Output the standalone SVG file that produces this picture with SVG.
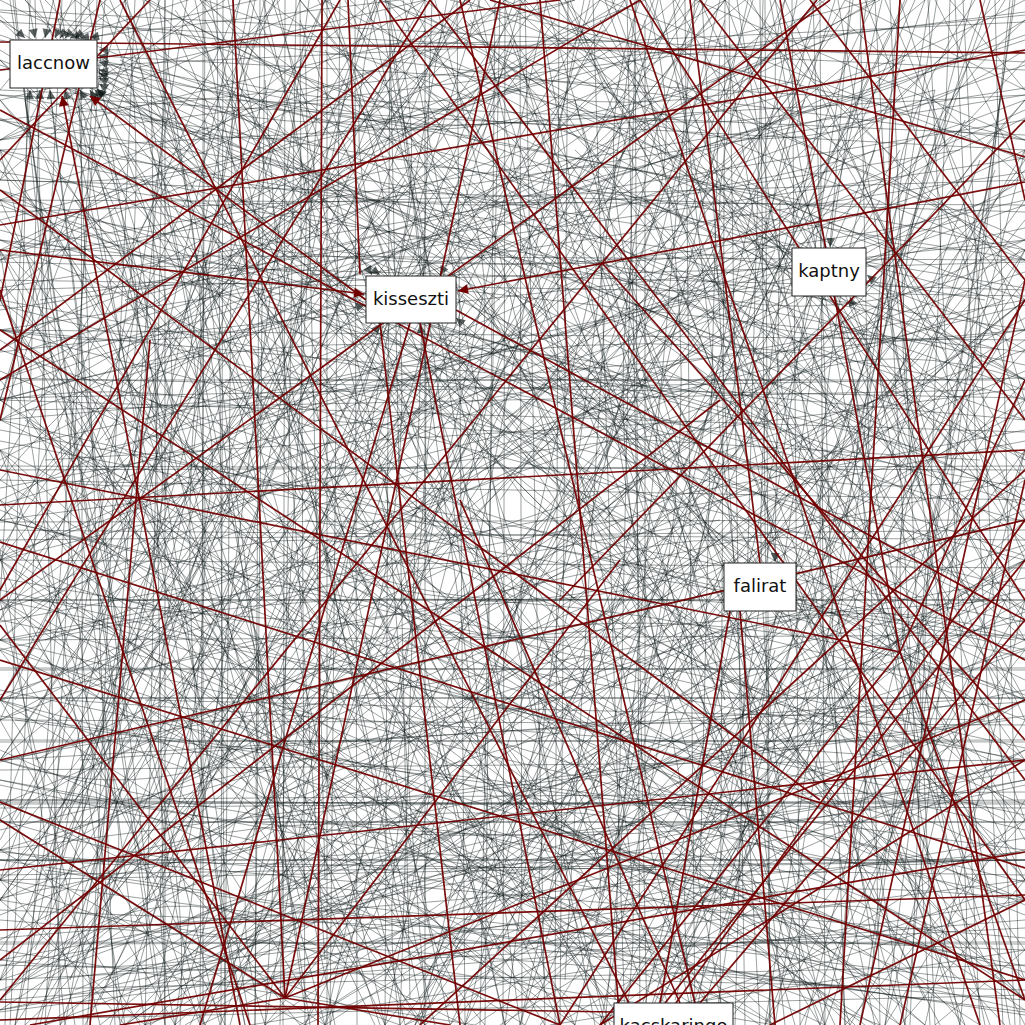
<svg xmlns="http://www.w3.org/2000/svg" width="1025" height="1025" viewBox="0 0 1025 1025">
<style>
.g line,.g path{stroke:#0a1414;stroke-opacity:.4;stroke-width:1;fill:none}
.r line{stroke:#720000;stroke-opacity:.95;stroke-width:1.7;fill:none}
.n rect{fill:#fff;stroke:#222;stroke-width:1}
.n text{font-family:"DejaVu Sans","Liberation Sans",sans-serif;font-size:18px;fill:#111;text-anchor:middle}
</style>
<defs>
<marker id="ag" viewBox="0 0 10 10" refX="10" refY="5" markerWidth="11" markerHeight="9" markerUnits="userSpaceOnUse" orient="auto"><path d="M0,0L10,5L0,10z" fill="#0a1414" fill-opacity=".65"/></marker>
<marker id="ar" viewBox="0 0 10 10" refX="10" refY="5" markerWidth="12" markerHeight="10" markerUnits="userSpaceOnUse" orient="auto"><path d="M0,0L10,5L0,10z" fill="#720000"/></marker>
</defs>
<rect width="1025" height="1025" fill="#fff"/>
<g id="edges">
<g class="g" id="gb">
<line x1="0" y1="12" x2="1025" y2="140"/><line x1="0" y1="35" x2="1025" y2="390"/><line x1="0" y1="70" x2="1025" y2="22"/><line x1="0" y1="95" x2="1025" y2="260"/><line x1="0" y1="118" x2="1025" y2="610"/><line x1="0" y1="150" x2="1025" y2="95"/><line x1="0" y1="172" x2="1025" y2="330"/><line x1="0" y1="190" x2="1025" y2="505"/><line x1="0" y1="212" x2="1025" y2="180"/><line x1="0" y1="240" x2="1025" y2="700"/><line x1="0" y1="262" x2="1025" y2="290"/><line x1="0" y1="288" x2="1025" y2="120"/><line x1="0" y1="305" x2="1025" y2="560"/><line x1="0" y1="330" x2="1025" y2="420"/><line x1="0" y1="352" x2="1025" y2="240"/><line x1="0" y1="371" x2="1025" y2="805"/><line x1="0" y1="398" x2="1025" y2="378"/><line x1="0" y1="420" x2="1025" y2="65"/><line x1="0" y1="441" x2="1025" y2="640"/><line x1="0" y1="466" x2="1025" y2="470"/><line x1="0" y1="488" x2="1025" y2="300"/><line x1="0" y1="510" x2="1025" y2="915"/><line x1="0" y1="530" x2="1025" y2="540"/><line x1="0" y1="556" x2="1025" y2="205"/><line x1="0" y1="578" x2="1025" y2="760"/><line x1="0" y1="600" x2="1025" y2="600"/><line x1="0" y1="622" x2="1025" y2="430"/><line x1="0" y1="648" x2="1025" y2="980"/><line x1="0" y1="670" x2="1025" y2="668"/><line x1="0" y1="695" x2="1025" y2="350"/><line x1="0" y1="716" x2="1025" y2="850"/><line x1="0" y1="740" x2="1025" y2="742"/><line x1="0" y1="762" x2="1025" y2="520"/><line x1="0" y1="785" x2="1025" y2="1010"/><line x1="0" y1="808" x2="1025" y2="800"/><line x1="0" y1="830" x2="1025" y2="590"/><line x1="0" y1="852" x2="1025" y2="938"/><line x1="0" y1="875" x2="1025" y2="860"/><line x1="0" y1="898" x2="1025" y2="690"/><line x1="0" y1="920" x2="1025" y2="1000"/><line x1="0" y1="944" x2="1025" y2="942"/><line x1="0" y1="966" x2="1025" y2="780"/><line x1="0" y1="990" x2="1025" y2="965"/><line x1="0" y1="1012" x2="1025" y2="880"/><line x1="0" y1="860" x2="1025" y2="860"/><line x1="0" y1="698" x2="1025" y2="698"/><line x1="0" y1="802" x2="1025" y2="804"/><line x1="0" y1="822" x2="1025" y2="822"/>
<line x1="15" y1="0" x2="120" y2="1025"/><line x1="40" y1="0" x2="380" y2="1025"/><line x1="62" y1="0" x2="10" y2="1025"/><line x1="88" y1="0" x2="250" y2="1025"/><line x1="110" y1="0" x2="560" y2="1025"/><line x1="135" y1="0" x2="90" y2="1025"/><line x1="158" y1="0" x2="310" y2="1025"/><line x1="180" y1="0" x2="720" y2="1025"/><line x1="205" y1="0" x2="200" y2="1025"/><line x1="228" y1="0" x2="450" y2="1025"/><line x1="250" y1="0" x2="40" y2="1025"/><line x1="272" y1="0" x2="610" y2="1025"/><line x1="296" y1="0" x2="280" y2="1025"/><line x1="318" y1="0" x2="880" y2="1025"/><line x1="340" y1="0" x2="330" y2="1025"/><line x1="365" y1="0" x2="150" y2="1025"/><line x1="388" y1="0" x2="520" y2="1025"/><line x1="410" y1="0" x2="940" y2="1025"/><line x1="432" y1="0" x2="400" y2="1025"/><line x1="455" y1="0" x2="60" y2="1025"/><line x1="478" y1="0" x2="700" y2="1025"/><line x1="500" y1="0" x2="480" y2="1025"/><line x1="522" y1="0" x2="230" y2="1025"/><line x1="545" y1="0" x2="850" y2="1025"/><line x1="568" y1="0" x2="560" y2="1025"/><line x1="590" y1="0" x2="330" y2="1025"/><line x1="612" y1="0" x2="990" y2="1025"/><line x1="635" y1="0" x2="640" y2="1025"/><line x1="658" y1="0" x2="420" y2="1025"/><line x1="680" y1="0" x2="190" y2="1025"/><line x1="702" y1="0" x2="760" y2="1025"/><line x1="725" y1="0" x2="720" y2="1025"/><line x1="748" y1="0" x2="520" y2="1025"/><line x1="770" y1="0" x2="960" y2="1025"/><line x1="792" y1="0" x2="800" y2="1025"/><line x1="815" y1="0" x2="600" y2="1025"/><line x1="838" y1="0" x2="1010" y2="1025"/><line x1="860" y1="0" x2="880" y2="1025"/><line x1="882" y1="0" x2="640" y2="1025"/><line x1="905" y1="0" x2="420" y2="1025"/><line x1="928" y1="0" x2="980" y2="1025"/><line x1="950" y1="0" x2="910" y2="1025"/><line x1="972" y1="0" x2="700" y2="1025"/><line x1="995" y1="0" x2="1020" y2="1025"/><line x1="1015" y1="0" x2="860" y2="1025"/><line x1="520" y1="0" x2="522" y2="1025"/><line x1="760" y1="0" x2="770" y2="1025"/><line x1="260" y1="0" x2="255" y2="1025"/>
<line x1="0" y1="300" x2="280" y2="0"/><line x1="0" y1="520" x2="460" y2="0"/><line x1="0" y1="180" x2="90" y2="0"/><line x1="0" y1="640" x2="700" y2="0"/><line x1="0" y1="420" x2="160" y2="0"/><line x1="0" y1="760" x2="540" y2="0"/><line x1="0" y1="880" x2="820" y2="0"/><line x1="0" y1="250" x2="520" y2="0"/><line x1="0" y1="560" x2="240" y2="0"/><line x1="0" y1="980" x2="1000" y2="0"/><line x1="0" y1="350" x2="640" y2="0"/><line x1="0" y1="700" x2="380" y2="0"/><line x1="0" y1="140" x2="330" y2="0"/><line x1="0" y1="460" x2="880" y2="0"/><line x1="0" y1="820" x2="300" y2="0"/>
<line x1="200" y1="0" x2="1025" y2="610"/><line x1="400" y1="0" x2="1025" y2="380"/><line x1="600" y1="0" x2="1025" y2="260"/><line x1="700" y1="0" x2="1025" y2="720"/><line x1="820" y1="0" x2="1025" y2="180"/><line x1="300" y1="0" x2="1025" y2="880"/><line x1="520" y1="0" x2="1025" y2="520"/><line x1="900" y1="0" x2="1025" y2="400"/><line x1="650" y1="0" x2="1025" y2="980"/><line x1="450" y1="0" x2="1025" y2="140"/><line x1="750" y1="0" x2="1025" y2="470"/><line x1="100" y1="0" x2="1025" y2="760"/><line x1="950" y1="0" x2="1025" y2="90"/><line x1="560" y1="0" x2="1025" y2="840"/><line x1="380" y1="0" x2="1025" y2="260"/>
<line x1="0" y1="300" x2="420" y2="1025"/><line x1="0" y1="500" x2="760" y2="1025"/><line x1="0" y1="150" x2="220" y2="1025"/><line x1="0" y1="650" x2="300" y2="1025"/><line x1="0" y1="400" x2="980" y2="1025"/><line x1="0" y1="800" x2="140" y2="1025"/><line x1="0" y1="560" x2="560" y2="1025"/><line x1="0" y1="700" x2="880" y2="1025"/><line x1="0" y1="220" x2="640" y2="1025"/><line x1="0" y1="880" x2="400" y2="1025"/><line x1="0" y1="60" x2="900" y2="1025"/><line x1="0" y1="450" x2="200" y2="1025"/><line x1="0" y1="750" x2="620" y2="1025"/><line x1="0" y1="340" x2="1025" y2="1010"/><line x1="0" y1="600" x2="100" y2="1025"/>
<line x1="100" y1="1025" x2="1025" y2="300"/><line x1="300" y1="1025" x2="1025" y2="560"/><line x1="500" y1="1025" x2="1025" y2="700"/><line x1="700" y1="1025" x2="1025" y2="820"/><line x1="200" y1="1025" x2="1025" y2="640"/><line x1="400" y1="1025" x2="1025" y2="160"/><line x1="600" y1="1025" x2="1025" y2="450"/><line x1="800" y1="1025" x2="1025" y2="560"/><line x1="900" y1="1025" x2="1025" y2="880"/><line x1="250" y1="1025" x2="1025" y2="900"/><line x1="450" y1="1025" x2="1025" y2="380"/><line x1="650" y1="1025" x2="1025" y2="250"/><line x1="850" y1="1025" x2="1025" y2="720"/><line x1="150" y1="1025" x2="1025" y2="480"/><line x1="550" y1="1025" x2="1025" y2="950"/>
<line x1="120" y1="60" x2="880" y2="420"/><line x1="300" y1="20" x2="640" y2="980"/><line x1="40" y1="300" x2="960" y2="150"/><line x1="500" y1="100" x2="150" y2="800"/><line x1="700" y1="50" x2="300" y2="700"/><line x1="900" y1="300" x2="200" y2="950"/><line x1="60" y1="700" x2="800" y2="100"/><line x1="250" y1="250" x2="980" y2="600"/><line x1="400" y1="600" x2="1000" y2="980"/><line x1="100" y1="450" x2="700" y2="300"/><line x1="820" y1="120" x2="600" y2="900"/><line x1="350" y1="80" x2="90" y2="600"/><line x1="550" y1="350" x2="950" y2="800"/><line x1="150" y1="150" x2="500" y2="950"/><line x1="950" y1="50" x2="450" y2="500"/><line x1="200" y1="950" x2="900" y2="500"/><line x1="650" y1="250" x2="1000" y2="350"/><line x1="30" y1="850" x2="600" y2="600"/><line x1="780" y1="700" x2="150" y2="400"/><line x1="450" y1="900" x2="900" y2="150"/><line x1="130" y1="250" x2="600" y2="50"/><line x1="870" y1="980" x2="1000" y2="100"/><line x1="20" y1="560" x2="450" y2="150"/><line x1="600" y1="700" x2="1020" y2="250"/><line x1="310" y1="420" x2="980" y2="460"/><line x1="70" y1="980" x2="380" y2="200"/><line x1="720" y1="900" x2="50" y2="980"/><line x1="510" y1="40" x2="800" y2="760"/><line x1="940" y1="620" x2="330" y2="800"/><line x1="180" y1="620" x2="820" y2="960"/><line x1="400" y1="350" x2="100" y2="1000"/><line x1="660" y1="420" x2="240" y2="40"/><line x1="990" y1="760" x2="560" y2="560"/><line x1="270" y1="700" x2="720" y2="180"/><line x1="840" y1="440" x2="420" y2="1000"/><line x1="90" y1="90" x2="300" y2="900"/><line x1="560" y1="960" x2="960" y2="420"/><line x1="350" y1="950" x2="30" y2="420"/><line x1="760" y1="300" x2="200" y2="520"/><line x1="120" y1="380" x2="880" y2="880"/><line x1="600" y1="20" x2="1010" y2="700"/><line x1="40" y1="200" x2="380" y2="880"/><line x1="880" y1="860" x2="260" y2="330"/><line x1="470" y1="640" x2="1000" y2="600"/><line x1="230" y1="90" x2="950" y2="940"/><line x1="700" y1="560" x2="100" y2="220"/><line x1="820" y1="20" x2="500" y2="640"/><line x1="10" y1="640" x2="720" y2="520"/><line x1="960" y1="360" x2="620" y2="980"/><line x1="330" y1="160" x2="780" y2="840"/><line x1="580" y1="190" x2="100" y2="900"/><line x1="150" y1="520" x2="620" y2="880"/><line x1="900" y1="580" x2="420" y2="80"/><line x1="50" y1="120" x2="540" y2="470"/><line x1="740" y1="110" x2="980" y2="920"/><line x1="260" y1="820" x2="1010" y2="720"/><line x1="430" y1="250" x2="230" y2="980"/><line x1="880" y1="200" x2="640" y2="620"/><line x1="110" y1="900" x2="520" y2="380"/><line x1="660" y1="980" x2="980" y2="520"/><line x1="20" y1="380" x2="800" y2="380"/><line x1="390" y1="40" x2="410" y2="1000"/><line x1="700" y1="880" x2="720" y2="40"/><line x1="170" y1="30" x2="1000" y2="330"/><line x1="950" y1="990" x2="30" y2="600"/><line x1="500" y1="500" x2="850" y2="10"/><line x1="260" y1="420" x2="960" y2="220"/><line x1="80" y1="760" x2="960" y2="700"/><line x1="620" y1="130" x2="260" y2="600"/><line x1="810" y1="610" x2="980" y2="160"/><line x1="360" y1="700" x2="860" y2="310"/><line x1="190" y1="200" x2="420" y2="520"/><line x1="540" y1="820" x2="880" y2="980"/><line x1="40" y1="960" x2="260" y2="540"/><line x1="720" y1="380" x2="1010" y2="820"/><line x1="470" y1="20" x2="700" y2="350"/><line x1="920" y1="440" x2="560" y2="300"/><line x1="300" y1="300" x2="620" y2="560"/>
<path d="M0,150Q400,350 1025,200"/><path d="M0,400Q500,250 1025,500"/><path d="M100,0Q300,500 120,1025"/><path d="M0,650Q520,520 1025,720"/><path d="M300,0Q600,400 1025,330"/><path d="M0,900Q450,700 900,1025"/><path d="M700,0Q500,500 820,1025"/><path d="M0,50Q300,250 600,0"/><path d="M450,1025Q600,700 1025,620"/><path d="M0,280Q260,600 0,950"/><path d="M1025,100Q700,450 1025,900"/><path d="M200,1025Q400,600 850,1025"/><path d="M500,0Q200,300 0,240"/><path d="M1025,380Q650,220 560,0"/><path d="M60,1025Q300,750 600,1025"/><path d="M0,550Q350,800 700,1025"/><path d="M900,0Q850,400 1025,620"/><path d="M150,0Q550,250 1025,0"/><path d="M0,760Q500,900 1025,780"/><path d="M600,1025Q850,800 1025,1000"/><path d="M250,0Q400,300 150,600"/><path d="M820,1025Q950,600 720,300"/><path d="M1025,250Q800,600 480,700"/><path d="M0,480Q150,300 380,200"/><path d="M400,1025Q350,700 600,450"/><path d="M700,200Q900,350 1025,550"/><path d="M0,1000Q200,820 500,860"/><path d="M960,1025Q1000,700 800,600"/><path d="M350,0Q500,150 800,80"/><path d="M0,330Q180,420 250,700"/><path d="M1025,850Q800,900 620,780"/><path d="M520,300Q700,520 980,480"/><path d="M100,600Q300,480 520,600"/><path d="M200,300Q350,100 560,200"/>
<path d="M0,20Q250,180 520,90"/><path d="M380,0Q300,250 520,420"/><path d="M640,0Q560,220 720,480"/><path d="M1025,20Q820,200 900,480"/><path d="M0,600Q200,700 180,1025"/><path d="M300,560Q500,640 700,560"/><path d="M680,700Q850,820 1025,760"/><path d="M760,420Q900,300 1025,170"/><path d="M140,180Q350,260 420,460"/><path d="M560,760Q650,900 540,1025"/>
</g>
<use href="#gb" transform="matrix(-1,0,0,1,1025,0)"/>
<use href="#gb" transform="rotate(90 512.5 512.5)"/>
<g class="g">
<line x1="400" y1="0" x2="80" y2="38" marker-end="url(#ag)"/><line x1="600" y1="40" x2="99" y2="50" marker-end="url(#ag)"/><line x1="800" y1="200" x2="99" y2="70" marker-end="url(#ag)"/><line x1="300" y1="500" x2="80" y2="90" marker-end="url(#ag)"/><line x1="200" y1="700" x2="65" y2="90" marker-end="url(#ag)"/><line x1="500" y1="300" x2="99" y2="84" marker-end="url(#ag)"/><line x1="150" y1="900" x2="50" y2="90" marker-end="url(#ag)"/><line x1="700" y1="600" x2="97" y2="89" marker-end="url(#ag)"/><line x1="1000" y1="300" x2="99" y2="62" marker-end="url(#ag)"/><line x1="250" y1="-20" x2="70" y2="38" marker-end="url(#ag)"/><line x1="60" y1="-30" x2="45" y2="38" marker-end="url(#ag)"/><line x1="0" y1="600" x2="30" y2="90" marker-end="url(#ag)"/><line x1="600" y1="900" x2="90" y2="90" marker-end="url(#ag)"/><line x1="900" y1="100" x2="99" y2="56" marker-end="url(#ag)"/><line x1="420" y1="420" x2="97" y2="89" marker-end="url(#ag)"/><line x1="120" y1="-30" x2="60" y2="38" marker-end="url(#ag)"/><line x1="350" y1="200" x2="99" y2="78" marker-end="url(#ag)"/><line x1="1025" y1="500" x2="99" y2="73" marker-end="url(#ag)"/><line x1="30" y1="400" x2="40" y2="90" marker-end="url(#ag)"/><line x1="500" y1="600" x2="95" y2="90" marker-end="url(#ag)"/><line x1="20" y1="-40" x2="35" y2="38" marker-end="url(#ag)"/><line x1="180" y1="-40" x2="75" y2="38" marker-end="url(#ag)"/><line x1="-40" y1="-20" x2="25" y2="38" marker-end="url(#ag)"/><line x1="300" y1="-10" x2="90" y2="38" marker-end="url(#ag)"/><line x1="90" y1="-40" x2="55" y2="38" marker-end="url(#ag)"/><line x1="150" y1="-40" x2="65" y2="38" marker-end="url(#ag)"/>
<line x1="800" y1="600" x2="456" y2="318" marker-end="url(#ag)"/><line x1="100" y1="700" x2="380" y2="324" marker-end="url(#ag)"/><line x1="600" y1="0" x2="440" y2="275" marker-end="url(#ag)"/><line x1="0" y1="400" x2="365" y2="305" marker-end="url(#ag)"/><line x1="200" y1="0" x2="372" y2="275" marker-end="url(#ag)"/><line x1="500" y1="900" x2="420" y2="324" marker-end="url(#ag)"/><line x1="150" y1="100" x2="380" y2="275" marker-end="url(#ag)"/>
<line x1="1025" y1="400" x2="867" y2="275" marker-end="url(#ag)"/><line x1="850" y1="0" x2="830" y2="247" marker-end="url(#ag)"/><line x1="1000" y1="700" x2="850" y2="297" marker-end="url(#ag)"/>
<line x1="780" y1="200" x2="775" y2="562" marker-end="url(#ag)"/>
</g>
<g class="r">
<line x1="0" y1="42" x2="1025" y2="53"/><line x1="0" y1="225" x2="1025" y2="50"/><line x1="0" y1="250" x2="364" y2="294" marker-end="url(#ar)"/><line x1="1025" y1="182" x2="458" y2="291" marker-end="url(#ar)"/><line x1="0" y1="505" x2="1025" y2="450"/><line x1="0" y1="542" x2="1025" y2="868"/><line x1="0" y1="625" x2="285" y2="998"/><line x1="0" y1="802" x2="560" y2="1025"/><line x1="0" y1="930" x2="1025" y2="895"/><line x1="0" y1="1002" x2="614" y2="1012"/><line x1="30" y1="1025" x2="1025" y2="852"/><line x1="233" y1="0" x2="285" y2="998"/><line x1="366" y1="300" x2="90" y2="96" marker-end="url(#ar)"/><line x1="240" y1="1025" x2="62" y2="96" marker-end="url(#ar)"/><line x1="322" y1="0" x2="318" y2="1025"/><line x1="348" y1="0" x2="360" y2="274"/><line x1="490" y1="0" x2="1025" y2="157"/><line x1="0" y1="1000" x2="817" y2="0"/><line x1="602" y1="263" x2="1025" y2="740"/><line x1="0" y1="110" x2="1025" y2="660"/><line x1="150" y1="0" x2="0" y2="160"/><line x1="0" y1="350" x2="470" y2="0"/><line x1="410" y1="323" x2="200" y2="1025"/><line x1="420" y1="323" x2="560" y2="1025"/><line x1="380" y1="323" x2="460" y2="1025"/><line x1="456" y1="310" x2="1025" y2="620"/><line x1="0" y1="330" x2="1025" y2="1000"/><line x1="100" y1="0" x2="0" y2="420"/><line x1="0" y1="70" x2="560" y2="0"/><line x1="690" y1="0" x2="760" y2="563"/><line x1="740" y1="611" x2="775" y2="1025"/><line x1="730" y1="611" x2="660" y2="1003"/><line x1="1025" y1="300" x2="560" y2="1025"/><line x1="1025" y1="520" x2="660" y2="1025"/><line x1="1025" y1="620" x2="700" y2="1003"/><line x1="980" y1="0" x2="1025" y2="200"/><line x1="860" y1="0" x2="1000" y2="1025"/><line x1="540" y1="0" x2="620" y2="1025"/><line x1="780" y1="0" x2="900" y2="652"/><line x1="900" y1="652" x2="1025" y2="380"/><line x1="900" y1="652" x2="600" y2="1025"/><line x1="900" y1="652" x2="1025" y2="1000"/><line x1="0" y1="470" x2="900" y2="652"/><line x1="285" y1="998" x2="1025" y2="700"/><line x1="285" y1="998" x2="620" y2="560"/><line x1="285" y1="998" x2="0" y2="820"/><line x1="285" y1="998" x2="450" y2="1025"/><line x1="285" y1="998" x2="120" y2="1025"/><line x1="285" y1="998" x2="500" y2="0"/><line x1="665" y1="1003" x2="1025" y2="560"/><line x1="680" y1="1003" x2="460" y2="500"/><line x1="0" y1="870" x2="1025" y2="760"/><line x1="150" y1="340" x2="90" y2="1025"/><line x1="0" y1="700" x2="430" y2="0"/><line x1="810" y1="0" x2="1025" y2="280"/><line x1="700" y1="0" x2="1025" y2="420"/><line x1="0" y1="190" x2="820" y2="800"/><line x1="1025" y1="600" x2="640" y2="0"/><line x1="0" y1="660" x2="1025" y2="980"/><line x1="1025" y1="470" x2="420" y2="1025"/><line x1="900" y1="0" x2="840" y2="1025"/><line x1="1025" y1="280" x2="860" y2="1025"/><line x1="0" y1="590" x2="340" y2="0"/><line x1="600" y1="1025" x2="1025" y2="760"/>
<line x1="60" y1="0" x2="0" y2="300"/><line x1="0" y1="380" x2="640" y2="0"/><line x1="0" y1="760" x2="1025" y2="520"/><line x1="380" y1="0" x2="1025" y2="900"/><line x1="630" y1="0" x2="980" y2="1025"/><line x1="0" y1="960" x2="720" y2="400"/><line x1="120" y1="0" x2="640" y2="1025"/><line x1="1025" y1="780" x2="430" y2="0"/><line x1="0" y1="290" x2="250" y2="1025"/><line x1="900" y1="1025" x2="1025" y2="480"/><line x1="0" y1="1020" x2="1025" y2="980"/><line x1="770" y1="1025" x2="1025" y2="900"/><line x1="0" y1="600" x2="830" y2="0"/><line x1="460" y1="0" x2="700" y2="1025"/><line x1="1025" y1="120" x2="560" y2="600"/>
</g>
</g>
<g id="node-laccnow" class="n"><rect x="10" y="40" width="87" height="48"/><text x="53.5" y="69">laccnow</text></g>
<g id="node-kisseszti" class="n"><rect x="366" y="276" width="90" height="47"/><text x="411" y="305">kisseszti</text></g>
<g id="node-kaptny" class="n"><rect x="792" y="248" width="74" height="48"/><text x="829" y="277">kaptny</text></g>
<g id="node-falirat" class="n"><rect x="724" y="563" width="72" height="48"/><text x="760" y="592">falirat</text></g>
<g id="node-kacskaringo" class="n"><rect x="614" y="1003" width="119" height="48"/><text x="673.5" y="1032">kacskaringo</text></g>
</svg>
